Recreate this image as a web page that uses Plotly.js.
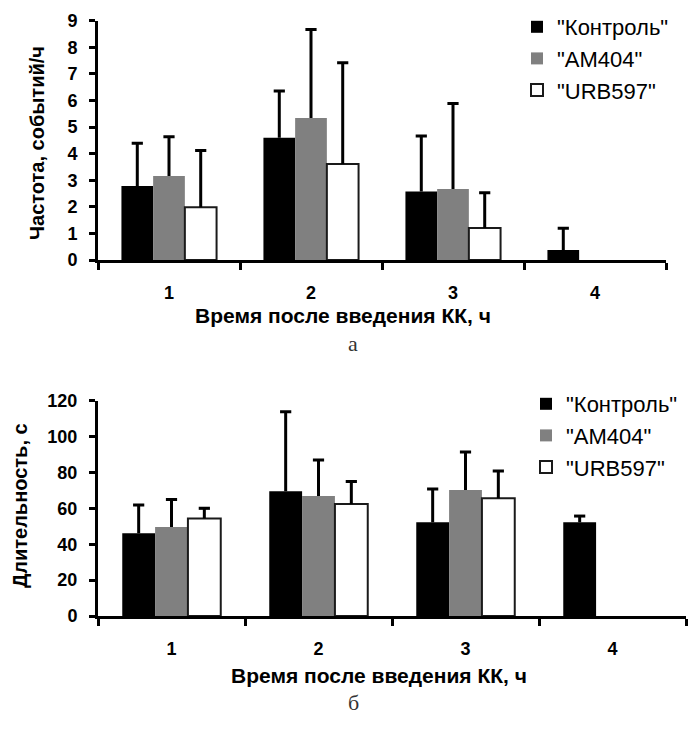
<!DOCTYPE html>
<html>
<head>
<meta charset="utf-8">
<script src="https://cdn.plot.ly/plotly-3.0.1.min.js"></script>
<style>html,body{margin:0;padding:0;background:#fff;}#chart{width:691px;height:731px;}</style>
</head>
<body>
<div id="chart"></div>
<script>
// Categories (hours after injection)
const hours = ["1", "2", "3", "4"];
const seriesNames = ['"Контроль"', '"AM404"', '"URB597"'];

// Panel а: frequency, events/h (mean, + error)
const freqControl = [2.78, 4.60, 2.58, 0.38];
const freqControlErr = [1.61, 1.76, 2.08, 0.81];
const freqAM404 = [3.16, 5.34, 2.67, null];
const freqAM404Err = [1.48, 3.33, 3.22, null];
const freqURB597 = [1.98, 3.61, 1.20, null];
const freqURB597Err = [2.14, 3.81, 1.33, null];

// Panel б: duration, s (mean, + error)
const durControl = [46.1, 69.5, 52.2, 52.2];
const durControlErr = [15.8, 44.4, 18.6, 3.5];
const durAM404 = [49.6, 66.9, 70.2, null];
const durAM404Err = [15.4, 20.1, 21.2, null];
const durURB597 = [54.4, 62.4, 65.6, null];
const durURB597Err = [5.6, 12.5, 15.2, null];

const yTitleTop = "Частота, событий/ч";
const yTitleBottom = "Длительность, с";
const xTitle = "Время после введения КК, ч";

const W = 691, H = 731;
const px = v => v / W;
const py = v => 1 - v / H;

const fills = ["#000000", "#808080", "#ffffff"];
const lines = [{width: 0}, {width: 0}, {color: "#1a1a1a", width: 2}];
const groups = ["g0", "g1", "g2"];

function bar(name, y, err, i, xa, ya, leg) {
  return {
    type: "bar", name: name, x: hours, y: y,
    xaxis: xa, yaxis: ya, legend: leg, offsetgroup: groups[i],
    marker: {color: fills[i], line: lines[i]},
    error_y: {type: "data", symmetric: false, array: err,
              arrayminus: err.map(() => 0), color: "#000", thickness: 3, width: 0},
    hoverinfo: "skip"
  };
}
// cap at the upper end of each error bar (upper end = mean + error)
function cap(y, err, i, xa, ya) {
  return {
    type: "scatter", mode: "markers", x: hours,
    y: y.map((v, k) => v == null ? null : v + err[k]),
    xaxis: xa, yaxis: ya, offsetgroup: groups[i], showlegend: false,
    marker: {symbol: "line-ew-open", size: 8, color: "#000", line: {color: "#000", width: 3}},
    hoverinfo: "skip"
  };
}

const data = [
  bar(seriesNames[0], freqControl, freqControlErr, 0, "x", "y", "legend"),
  bar(seriesNames[1], freqAM404, freqAM404Err, 1, "x", "y", "legend"),
  bar(seriesNames[2], freqURB597, freqURB597Err, 2, "x", "y", "legend"),
  bar(seriesNames[0], durControl, durControlErr, 0, "x2", "y2", "legend2"),
  bar(seriesNames[1], durAM404, durAM404Err, 1, "x2", "y2", "legend2"),
  bar(seriesNames[2], durURB597, durURB597Err, 2, "x2", "y2", "legend2"),
  cap(freqControl, freqControlErr, 0, "x", "y"),
  cap(freqAM404, freqAM404Err, 1, "x", "y"),
  cap(freqURB597, freqURB597Err, 2, "x", "y"),
  cap(durControl, durControlErr, 0, "x2", "y2"),
  cap(durAM404, durAM404Err, 1, "x2", "y2"),
  cap(durURB597, durURB597Err, 2, "x2", "y2")
];

const SANS = "Liberation Sans, Arial, sans-serif";
const tickFontTop = {family: SANS, size: 18, color: "#000", weight: "bold"};
const tickFontBot = {family: SANS, size: 18, color: "#000", weight: "bold"};
const xTitleFont = {family: SANS, size: 21, color: "#000", weight: "bold"};
const yTitleFont = {family: SANS, size: 20, color: "#000", weight: "bold"};
const legFont = {family: SANS, size: 22, color: "#000"};
const serifFont = {family: "Liberation Serif, Times New Roman, serif", size: 22, color: "#333"};

function xax(domain, anchor, font) {
  return {domain: domain, anchor: anchor, type: "category",
    showline: true, linewidth: 3, linecolor: "#000",
    ticks: "outside", tickson: "boundaries", ticklen: 7, tickwidth: 3, tickcolor: "#000",
    tickfont: font, ticklabelstandoff: 14, showgrid: false, zeroline: false, fixedrange: true};
}
function yax(domain, anchor, range, dtick, font) {
  return {domain: domain, anchor: anchor, range: range, dtick: dtick,
    showline: true, linewidth: 3, linecolor: "#000",
    ticks: "outside", ticklen: 6, tickwidth: 3, tickcolor: "#000",
    tickfont: font, ticklabelstandoff: 8, showgrid: false, zeroline: false, fixedrange: true};
}

function ann(text, x, y, font, angle) {
  return {text: text, x: px(x), y: py(y), xref: "paper", yref: "paper",
          xanchor: "center", yanchor: "middle", showarrow: false, textangle: angle || 0, font: font};
}

const layout = {
  width: W, height: H,
  margin: {l: 0, r: 0, t: 0, b: 0},
  paper_bgcolor: "#fff", plot_bgcolor: "#fff",
  barmode: "group", bargap: 0.33, bargroupgap: 0,
  scattermode: "group", scattergap: 0.33,
  showlegend: true,
  xaxis: xax([px(98), px(666)], "y", tickFontTop),
  yaxis: yax([py(260), py(20.7)], "x", [0, 9], 1, tickFontTop),
  xaxis2: xax([px(98), px(686)], "y2", tickFontBot),
  yaxis2: yax([py(616), py(400.7)], "x2", [0, 120], 20, tickFontBot),
  legend: {x: px(517), y: py(6), xanchor: "left", yanchor: "top",
           font: legFont, bgcolor: "rgba(0,0,0,0)", tracegroupgap: 0, traceorder: "normal"},
  legend2: {x: px(526), y: py(383), xanchor: "left", yanchor: "top",
            font: legFont, bgcolor: "rgba(0,0,0,0)", tracegroupgap: 0, traceorder: "normal"},
  annotations: [
    ann(xTitle, 343, 315, xTitleFont),
    ann(xTitle, 379, 675, xTitleFont),
    ann(yTitleTop, 37, 143, yTitleFont, -90),
    ann(yTitleBottom, 20, 506, yTitleFont, -90),
    ann("а", 353, 343, serifFont),
    ann("б", 353, 702, serifFont)
  ]
};

Plotly.newPlot("chart", data, layout, {displayModeBar: false, staticPlot: true});
</script>
</body>
</html>
